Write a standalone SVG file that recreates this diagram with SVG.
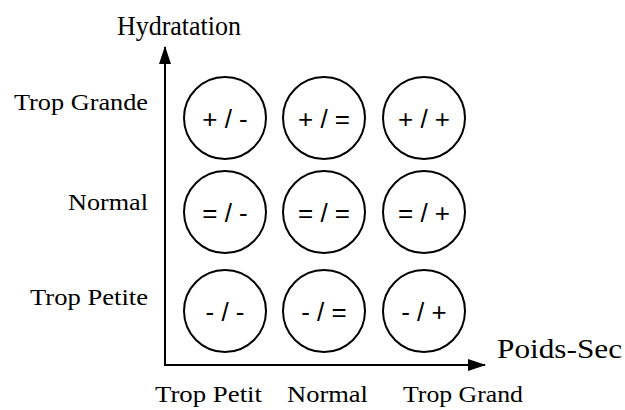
<svg xmlns="http://www.w3.org/2000/svg" width="625" height="410" viewBox="0 0 625 410">
<style>
.lbl{font-size:23px;fill:#000}
.ax{font-size:28px;fill:#000}
.cell circle{fill:#fff;stroke:#000;stroke-width:2}
.cell text{font-family:'Liberation Sans',Arial,sans-serif;font-size:26px;fill:#000;text-anchor:middle}
.axis{stroke:#000;stroke-width:2;fill:none}
</style>
<defs>
<marker id="ah" viewBox="0 0 18 12" refX="17" refY="6" markerWidth="18" markerHeight="12" markerUnits="userSpaceOnUse" orient="auto">
<path d="M0,0 L18,6 L0,12 Z" fill="#000"/>
</marker>
</defs>
<rect width="625" height="410" fill="#fff"/>
<g id="connectors">
<line class="axis" x1="165" y1="366" x2="165" y2="47" marker-end="url(#ah)"/>
<line class="axis" x1="164" y1="365" x2="485" y2="365" marker-end="url(#ah)"/>
</g>
<g id="axis-labels" font-family="Liberation Serif, Times New Roman, DejaVu Serif, serif">
<text class="ax" x="117" y="35" textLength="124" lengthAdjust="spacingAndGlyphs">Hydratation</text>
<text class="ax" x="497" y="358" textLength="125" lengthAdjust="spacingAndGlyphs">Poids-Sec</text>
<text class="lbl" x="14" y="110" textLength="134" lengthAdjust="spacingAndGlyphs">Trop Grande</text>
<text class="lbl" x="68" y="210" textLength="80" lengthAdjust="spacingAndGlyphs">Normal</text>
<text class="lbl" x="30" y="305" textLength="118" lengthAdjust="spacingAndGlyphs">Trop Petite</text>
<text class="lbl" x="155" y="402" textLength="107" lengthAdjust="spacingAndGlyphs">Trop Petit</text>
<text class="lbl" x="287" y="402" textLength="81" lengthAdjust="spacingAndGlyphs">Normal</text>
<text class="lbl" x="403" y="402" textLength="120" lengthAdjust="spacingAndGlyphs">Trop Grand</text>
</g>
<g id="n-pp" class="cell"><circle cx="225" cy="118" r="41"/><text x="225" y="128">+ / -</text></g>
<g id="n-pe" class="cell"><circle cx="324" cy="118" r="41"/><text x="324" y="128">+ / =</text></g>
<g id="n-pg" class="cell"><circle cx="424" cy="118" r="41"/><text x="424" y="128">+ / +</text></g>
<g id="n-ep" class="cell"><circle cx="225" cy="212" r="41"/><text x="225" y="222">= / -</text></g>
<g id="n-ee" class="cell"><circle cx="324" cy="212" r="41"/><text x="324" y="222">= / =</text></g>
<g id="n-eg" class="cell"><circle cx="424" cy="212" r="41"/><text x="424" y="222">= / +</text></g>
<g id="n-mp" class="cell"><circle cx="225" cy="311" r="41"/><text x="225" y="321">- / -</text></g>
<g id="n-me" class="cell"><circle cx="324" cy="311" r="41"/><text x="324" y="321">- / =</text></g>
<g id="n-mg" class="cell"><circle cx="424" cy="311" r="41"/><text x="424" y="321">- / +</text></g>
</svg>
